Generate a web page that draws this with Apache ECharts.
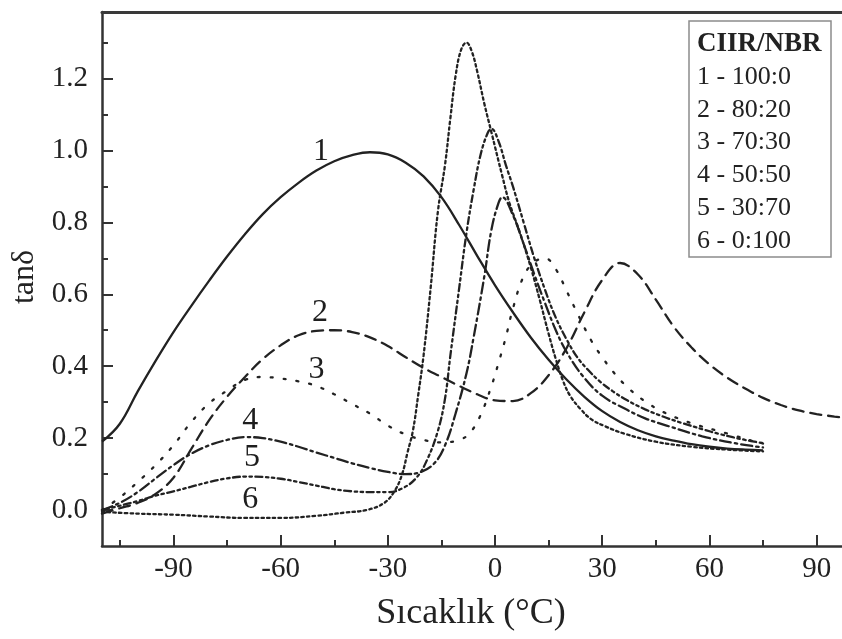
<!DOCTYPE html>
<html>
<head>
<meta charset="utf-8">
<script src="https://cdn.jsdelivr.net/npm/echarts@6/dist/echarts.min.js"></script>
<style>
html,body{margin:0;padding:0;background:#fff;}
#chart{width:842px;height:639px;}
</style>
</head>
<body>
<div id="chart"></div>
<script>
// ---- data (temperature °C, tanδ) ----
const curve1 = [[-110,0.19],[-105,0.24],[-100,0.33],[-95,0.415],[-90,0.495],[-85,0.568],[-80,0.638],[-75,0.705],[-70,0.767],[-65,0.823],[-60,0.87],[-55,0.91],[-50,0.944],[-45,0.97],[-40,0.987],[-35,0.995],[-30,0.989],[-25,0.966],[-20,0.928],[-15,0.87],[-10,0.792],[-5,0.707],[0,0.625],[5,0.55],[10,0.48],[15,0.418],[20,0.363],[25,0.315],[30,0.275],[35,0.245],[40,0.222],[45,0.205],[50,0.193],[55,0.183],[60,0.176],[65,0.171],[70,0.168],[75,0.166]];
const curve2 = [[-110,-0.01],[-105,0.005],[-100,0.02],[-95,0.045],[-90,0.09],[-85,0.17],[-80,0.25],[-75,0.315],[-70,0.37],[-65,0.42],[-60,0.458],[-55,0.486],[-50,0.498],[-45,0.5],[-40,0.495],[-35,0.48],[-30,0.456],[-25,0.425],[-20,0.395],[-15,0.37],[-10,0.345],[-5,0.322],[0,0.305],[5,0.303],[10,0.325],[15,0.375],[20,0.45],[25,0.55],[30,0.64],[35,0.687],[40,0.655],[45,0.585],[50,0.51],[55,0.452],[60,0.405],[65,0.368],[70,0.338],[75,0.312],[80,0.292],[85,0.277],[90,0.267],[95,0.26],[100,0.255]];
const curve3 = [[-110,0.0],[-105,0.035],[-100,0.078],[-95,0.125],[-90,0.18],[-85,0.245],[-80,0.297],[-75,0.332],[-70,0.362],[-65,0.37],[-60,0.366],[-55,0.358],[-50,0.345],[-45,0.322],[-40,0.295],[-35,0.268],[-30,0.235],[-25,0.21],[-20,0.195],[-15,0.188],[-10,0.195],[-7,0.215],[-4,0.265],[-1,0.345],[1,0.41],[3,0.48],[5,0.56],[8,0.65],[11,0.69],[14,0.7],[17,0.67],[20,0.61],[23,0.548],[27,0.47],[30,0.425],[33,0.385],[37,0.342],[42,0.302],[47,0.273],[52,0.252],[57,0.235],[62,0.221],[67,0.207],[71,0.195],[75,0.185]];
const curve4 = [[-110,0.0],[-105,0.02],[-100,0.05],[-95,0.088],[-90,0.125],[-85,0.157],[-80,0.18],[-75,0.195],[-70,0.203],[-65,0.2],[-60,0.19],[-55,0.176],[-50,0.16],[-45,0.145],[-40,0.13],[-35,0.117],[-30,0.106],[-25,0.1],[-21,0.105],[-17,0.13],[-14,0.18],[-11,0.27],[-8,0.38],[-6,0.48],[-3,0.65],[-1,0.78],[1,0.855],[2,0.87],[5,0.82],[8,0.74],[11,0.655],[14,0.575],[17,0.5],[20,0.44],[24.6,0.372],[30,0.318],[36.7,0.28],[42,0.255],[48,0.235],[58,0.205],[67,0.186],[75,0.174]];
const curve5 = [[-110,0.0],[-105,0.012],[-100,0.025],[-95,0.04],[-90,0.052],[-85,0.065],[-80,0.078],[-75,0.088],[-70,0.093],[-65,0.092],[-60,0.087],[-55,0.078],[-50,0.068],[-45,0.058],[-40,0.052],[-35,0.05],[-30,0.05],[-26,0.06],[-22,0.09],[-19,0.14],[-16,0.22],[-14,0.31],[-12.5,0.43],[-10,0.62],[-8,0.77],[-6,0.89],[-4,0.99],[-2,1.05],[-1,1.06],[1,1.025],[3,0.96],[5,0.9],[8,0.8],[11,0.7],[14,0.612],[17,0.535],[20,0.475],[23,0.425],[26,0.39],[29.4,0.357],[33,0.33],[37,0.305],[42,0.28],[47,0.26],[52,0.243],[58,0.225],[63,0.211],[70,0.195],[75,0.186]];
const curve6 = [[-110,-0.005],[-100,-0.01],[-90,-0.013],[-80,-0.018],[-70,-0.022],[-60,-0.022],[-50,-0.016],[-42,-0.007],[-36,0.0],[-31,0.02],[-28,0.055],[-26,0.1],[-24.5,0.16],[-23,0.22],[-21.5,0.32],[-20,0.43],[-18,0.62],[-16,0.83],[-14,0.96],[-12.5,1.09],[-11,1.21],[-9.5,1.28],[-8,1.3],[-6.5,1.275],[-5,1.22],[-3,1.13],[-1,1.05],[2,0.93],[4,0.855],[7,0.77],[10,0.675],[12.5,0.585],[15,0.49],[17,0.42],[19,0.36],[21,0.318],[24,0.28],[27,0.252],[31,0.232],[36,0.213],[45,0.19],[55,0.176],[65,0.168],[75,0.163]];

const curveNames = ['1','2','3','4','5','6'];
const curveLabelPos = [[-48.7,0.997,'1'],[-49,0.549,'2'],[-50,0.39,'3'],[-68.5,0.25,'4'],[-68,0.145,'5'],[-68.5,0.028,'6']];

const xMajorTicks = [-90,-60,-30,0,30,60,90];
const xMinorTicks = [-105,-75,-45,-15,15,45,75];
const yMajorTicks = [0.0,0.2,0.4,0.6,0.8,1.0,1.2];
const yMinorTicks = [0.1,0.3,0.5,0.7,0.9,1.1,1.3];

const legendTitle = 'CIIR/NBR';
const legendEntries = ['1 - 100:0','2 - 80:20','3 - 70:30','4 - 50:50','5 - 30:70','6 - 0:100'];

const xTitle = 'Sıcaklık (°C)';
const yTitle = 'tanδ';

// ---- chart ----
const FONT = '"Liberation Serif", "Times New Roman", serif';
const INK = '#222222';
const X_MIN = -110, X_MAX = 97.1, Y_MIN = -0.1, Y_MAX = 1.385;
const chart = echarts.init(document.getElementById('chart'), null, {renderer:'canvas'});

const dashStyles = [
  'solid',
  [11, 7],
  [2, 11],
  [11, 4, 2.5, 4],
  [7, 3.5, 2.5, 3.5, 2.5, 3.5],
  [2.5, 3.2]
];
const curves = [curve1, curve2, curve3, curve4, curve5, curve6];

const series = curves.map((d, i) => ({
  name: curveNames[i],
  type: 'line',
  data: d,
  smooth: 0.4,
  showSymbol: false,
  symbol: 'none',
  silent: true,
  clip: true,
  lineStyle: {color: INK, width: 2.3, type: dashStyles[i], cap: i === 0 ? 'butt' : 'round'},
  z: 3
}));

series.push({
  type: 'scatter',
  data: curveLabelPos,
  symbolSize: 0,
  silent: true,
  itemStyle: {color: INK},
  label: {
    show: true, position: 'inside',
    formatter: p => p.data[2],
    fontFamily: FONT, fontSize: 32, color: '#1e1e1e', textBorderWidth: 0, opacity: 1
  },
  z: 5
});

const legendGraphics = [
  {type:'rect', shape:{x:689, y:21, width:142, height:236},
   style:{fill:'#ffffff', stroke:'#8c8c8c', lineWidth:1.5}},
  {type:'text', x:697, y:44, style:{text:legendTitle, font:'bold 27px ' + FONT, fill:INK, align:'left', verticalAlign:'middle'}}
].concat(legendEntries.map((t, i) => ({
  type:'text', x:697, y:77 + i * 32.8,
  style:{text:t, font:'26px ' + FONT, fill:INK, align:'left', verticalAlign:'middle'}
})));

const option = {
  backgroundColor: '#ffffff',
  animation: false,
  grid: {left: 102, top: 12, right: 0, bottom: 93, containLabel: false},
  xAxis: [
    {
      type: 'value', min: X_MIN, max: X_MAX, position: 'bottom',
      axisLine: {show: true, onZero: false, lineStyle: {color: '#333', width: 2.5}},
      axisTick: {show: true, inside: true, length: 11, customValues: xMajorTicks, lineStyle: {color: '#333', width: 2}},
      axisLabel: {show: true, customValues: xMajorTicks, margin: 9, fontFamily: FONT, fontSize: 29, color: INK,
                  formatter: v => String(v)},
      splitLine: {show: false}
    },
    {
      type: 'value', min: X_MIN, max: X_MAX, position: 'bottom',
      axisLine: {show: false, onZero: false},
      axisTick: {show: true, inside: true, length: 6, customValues: xMinorTicks, lineStyle: {color: '#333', width: 2}},
      axisLabel: {show: false},
      splitLine: {show: false}
    },
    {
      type: 'value', min: X_MIN, max: X_MAX, position: 'top',
      axisLine: {show: true, onZero: false, lineStyle: {color: '#3a3a3a', width: 3}},
      axisTick: {show: false}, axisLabel: {show: false}, splitLine: {show: false}
    }
  ],
  yAxis: [
    {
      type: 'value', min: Y_MIN, max: Y_MAX, position: 'left',
      axisLine: {show: true, onZero: false, lineStyle: {color: '#333', width: 2.5}},
      axisTick: {show: true, inside: true, length: 11, customValues: yMajorTicks, lineStyle: {color: '#333', width: 2}},
      axisLabel: {show: true, customValues: yMajorTicks, margin: 14, fontFamily: FONT, fontSize: 29, color: INK,
                  formatter: v => v.toFixed(1)},
      splitLine: {show: false}
    },
    {
      type: 'value', min: Y_MIN, max: Y_MAX, position: 'left',
      axisLine: {show: false, onZero: false},
      axisTick: {show: true, inside: true, length: 6, customValues: yMinorTicks, lineStyle: {color: '#333', width: 2}},
      axisLabel: {show: false},
      splitLine: {show: false}
    }
  ],
  series: series,
  graphic: legendGraphics.concat([
    {type:'text', x:471, y:614, style:{text:xTitle, font:'36px ' + FONT, fill:INK, align:'center', verticalAlign:'middle'}},
    {type:'text', x:25, y:277, rotation: Math.PI/2, style:{text:yTitle, font:'32px ' + FONT, fill:INK, align:'center', verticalAlign:'middle'}}
  ])
};
chart.setOption(option);
</script>
</body>
</html>
